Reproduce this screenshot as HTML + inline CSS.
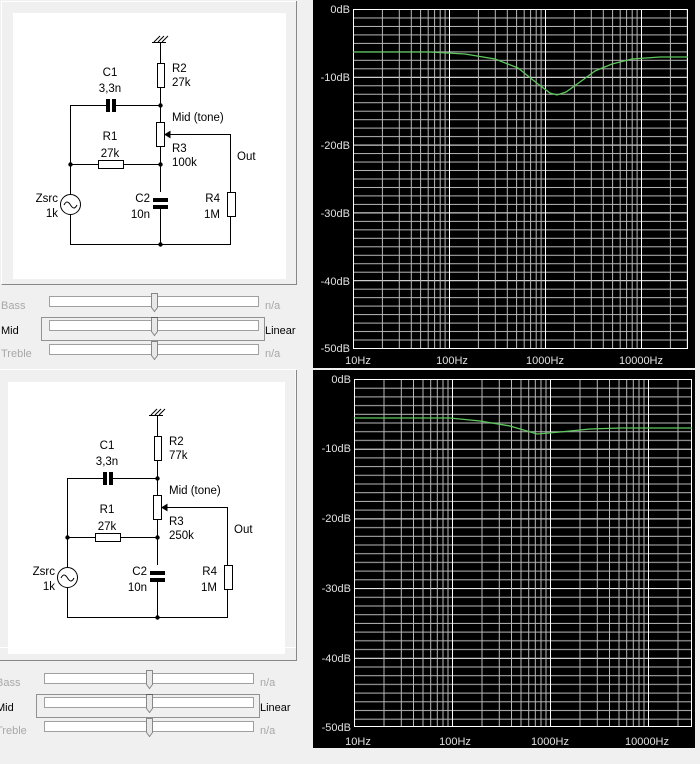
<!DOCTYPE html>
<html><head><meta charset="utf-8"><style>
html,body{margin:0;padding:0;background:#f0f0f0;}
svg{display:block;font-family:"Liberation Sans",sans-serif;}
</style></head><body>
<svg width="700" height="764" viewBox="0 0 700 764" xmlns="http://www.w3.org/2000/svg">
<defs>
<pattern id="v1" patternUnits="userSpaceOnUse" x="353" y="0" width="96" height="10">
<g stroke="#b8b8b8" stroke-width="1">
<line x1="0.5" y1="0" x2="0.5" y2="10" stroke="#fff"/>
<line x1="29.4" y1="0" x2="29.4" y2="10"/><line x1="46.3" y1="0" x2="46.3" y2="10"/>
<line x1="58.3" y1="0" x2="58.3" y2="10"/><line x1="67.6" y1="0" x2="67.6" y2="10"/>
<line x1="75.2" y1="0" x2="75.2" y2="10"/><line x1="81.6" y1="0" x2="81.6" y2="10"/>
<line x1="87.2" y1="0" x2="87.2" y2="10"/><line x1="92.1" y1="0" x2="92.1" y2="10"/>
</g></pattern>
<pattern id="h1" patternUnits="userSpaceOnUse" x="0" y="9" width="10" height="67.8">
<g stroke="#b8b8b8"><line x1="0" y1="0.5" x2="10" y2="0.5" stroke="#fff"/>
<line x1="0" y1="8.97" x2="10" y2="8.97"/><line x1="0" y1="17.45" x2="10" y2="17.45"/>
<line x1="0" y1="25.9" x2="10" y2="25.9"/><line x1="0" y1="34.4" x2="10" y2="34.4"/>
<line x1="0" y1="42.9" x2="10" y2="42.9"/><line x1="0" y1="51.3" x2="10" y2="51.3"/>
<line x1="0" y1="59.8" x2="10" y2="59.8"/></g></pattern>
<pattern id="v2" patternUnits="userSpaceOnUse" x="354" y="0" width="98" height="10">
<g stroke="#b8b8b8" stroke-width="1">
<line x1="0.5" y1="0" x2="0.5" y2="10" stroke="#fff"/>
<line x1="30" y1="0" x2="30" y2="10"/><line x1="47.3" y1="0" x2="47.3" y2="10"/>
<line x1="59.5" y1="0" x2="59.5" y2="10"/><line x1="69" y1="0" x2="69" y2="10"/>
<line x1="76.7" y1="0" x2="76.7" y2="10"/><line x1="83.3" y1="0" x2="83.3" y2="10"/>
<line x1="89" y1="0" x2="89" y2="10"/><line x1="94" y1="0" x2="94" y2="10"/>
</g></pattern>
<pattern id="h2" patternUnits="userSpaceOnUse" x="0" y="379" width="10" height="69.7">
<g stroke="#b8b8b8"><line x1="0" y1="0.5" x2="10" y2="0.5" stroke="#fff"/>
<line x1="0" y1="9.2" x2="10" y2="9.2"/><line x1="0" y1="17.9" x2="10" y2="17.9"/>
<line x1="0" y1="26.6" x2="10" y2="26.6"/><line x1="0" y1="35.3" x2="10" y2="35.3"/>
<line x1="0" y1="44" x2="10" y2="44"/><line x1="0" y1="52.7" x2="10" y2="52.7"/>
<line x1="0" y1="61.4" x2="10" y2="61.4"/></g></pattern>

<g id="circ" fill="none" stroke="#000" stroke-width="1">
<path d="M160.5 42V63M160.5 87V122M160.5 146V192M160.5 208V244M70.5 105V194M70.5 214V244.5H230.5V216M230.5 192V134.5H166M70 105.5H107M114 105.5H160M70 164.5H98M123 164.5H160"/>
<path d="M154 42L160 36M158 42L164 36M162 42L168 36M152 42.5H166"/>
<rect x="157.5" y="63.5" width="7" height="24" fill="#fff"/>
<rect x="156.5" y="122.5" width="8" height="24" fill="#fff"/>
<rect x="98.5" y="160.5" width="25" height="8" fill="#fff"/>
<rect x="227.5" y="192.5" width="8" height="24" fill="#fff"/>
<rect x="106" y="99" width="4" height="13" fill="#000" stroke="none"/>
<rect x="112" y="99" width="4" height="13" fill="#000" stroke="none"/>
<rect x="153" y="198" width="15" height="4" fill="#000" stroke="none"/>
<rect x="153" y="205" width="15" height="4" fill="#000" stroke="none"/>
<circle cx="70.5" cy="204.5" r="10" fill="#fff"/>
<path d="M64 205c2-4 4-4 6.5 0s4.5 4 6.5 0"/>
<path d="M165 134.5L170 131.5V137.5Z" fill="#000"/>
<g fill="#000" stroke="none"><circle cx="160.5" cy="105.5" r="2.2"/><circle cx="160.5" cy="164.5" r="2.2"/><circle cx="70.5" cy="164.5" r="2.2"/><circle cx="160.5" cy="244.5" r="2.2"/></g>
<g fill="#000" stroke="none" font-size="11.5">
<text x="110" y="76" text-anchor="middle">C1</text><text x="110" y="92" text-anchor="middle">3,3n</text>
<text x="172" y="72">R2</text>
<text x="172" y="121">Mid (tone)</text>
<text x="110" y="140" text-anchor="middle">R1</text><text x="110" y="157" text-anchor="middle">27k</text>
<text x="172" y="152">R3</text>
<text x="237" y="160">Out</text>
<text x="58" y="202" text-anchor="end">Zsrc</text><text x="58" y="217" text-anchor="end">1k</text>
<text x="150" y="202" text-anchor="end">C2</text><text x="150" y="218" text-anchor="end">10n</text>
<text x="220" y="202" text-anchor="end">R4</text><text x="220" y="218" text-anchor="end">1M</text>
</g></g>

<g id="ctrl" font-size="11">
<g fill="#fff" stroke="#a0a0a0">
<rect x="49.5" y="296.5" width="103" height="10"/><rect x="157.5" y="296.5" width="101" height="10"/>
<rect x="49.5" y="320.5" width="103" height="10"/><rect x="157.5" y="320.5" width="101" height="10"/>
<rect x="49.5" y="344.5" width="103" height="10"/><rect x="157.5" y="344.5" width="101" height="10"/>
</g>
<g fill="#e8e8e8" stroke="#888"><path d="M151.5 293.5h6v14l-3 4l-3-4z"/><path d="M151.5 317.5h6v14l-3 4l-3-4z"/><path d="M151.5 341.5h6v14l-3 4l-3-4z"/></g>
<rect x="41.5" y="317.5" width="223" height="23" fill="none" stroke="#333" stroke-dasharray="1 1"/>
<text x="1" y="309" fill="#a8a8a8">Bass</text>
<text x="1" y="334" fill="#000">Mid</text>
<text x="1" y="357" fill="#a8a8a8">Treble</text>
<text x="265" y="309" fill="#a8a8a8">n/a</text>
<text x="265" y="334" fill="#000">Linear</text>
<text x="265" y="357" fill="#a8a8a8">n/a</text>
</g>
</defs>

<!-- top left panel -->
<rect x="1.5" y="1.5" width="295" height="283" fill="#f0f0f0" stroke="#fff"/>
<path d="M1.5 284.5H296.5V1" stroke="#888" fill="none"/>
<rect x="13" y="13" width="273" height="266" fill="#fff"/>
<use href="#circ"/>
<text x="172" y="86" font-size="11.5">27k</text>
<text x="172" y="166" font-size="11.5">100k</text>
<use href="#ctrl"/>

<!-- bottom left panel -->
<rect x="-2" y="369.5" width="298" height="278" fill="#f0f0f0" stroke="#fff"/>
<path d="M-2 660.5H296.5V370" stroke="#888" fill="none"/>
<rect x="8" y="382" width="277" height="272" fill="#fff"/>
<g transform="translate(-3,373)"><use href="#circ"/>
<text x="172" y="86" font-size="11.5">77k</text>
<text x="172" y="166" font-size="11.5">250k</text></g>
<g transform="translate(-5,377)"><use href="#ctrl"/></g>

<!-- top graph -->
<rect x="313" y="0" width="382" height="368" fill="#000"/>
<rect x="353" y="9" width="335" height="340" fill="url(#h1)"/>
<rect x="353" y="9" width="335" height="340" fill="url(#v1)"/>
<rect x="353.5" y="9.5" width="334" height="339" fill="none" stroke="#fff"/>
<polyline fill="none" stroke="#5ec85e" stroke-width="1.3" points="353,52 430,52 465,54 495,59 518,68 538,84 550,93 557,95 566,92 580,82 595,71 612,64 632,59 660,57 688,57"/>
<g fill="#e0e0e0" font-size="11" text-anchor="end">
<text x="350" y="13">0dB</text><text x="350" y="81">-10dB</text><text x="350" y="149">-20dB</text>
<text x="350" y="217">-30dB</text><text x="350" y="285">-40dB</text><text x="350" y="352">-50dB</text></g>
<g fill="#e0e0e0" font-size="11" text-anchor="middle">
<text x="358" y="364">10Hz</text><text x="452" y="364">100Hz</text><text x="545" y="364">1000Hz</text><text x="641" y="364">10000Hz</text></g>

<!-- bottom graph -->
<rect x="313" y="370" width="382" height="378" fill="#000"/>
<rect x="354" y="379" width="338" height="348" fill="url(#h2)"/>
<rect x="354" y="379" width="338" height="348" fill="url(#v2)"/>
<rect x="354.5" y="379.5" width="337" height="347" fill="none" stroke="#fff"/>
<polyline fill="none" stroke="#5ec85e" stroke-width="1.3" points="354,418 450,418 480,421 510,426 537,434 560,432 590,429 620,428 692,428"/>
<g fill="#e0e0e0" font-size="11" text-anchor="end">
<text x="351" y="383">0dB</text><text x="351" y="452">-10dB</text><text x="351" y="522">-20dB</text>
<text x="351" y="592">-30dB</text><text x="351" y="662">-40dB</text><text x="351" y="731">-50dB</text></g>
<g fill="#e0e0e0" font-size="11" text-anchor="middle">
<text x="358" y="745">10Hz</text><text x="455" y="745">100Hz</text><text x="550" y="745">1000Hz</text><text x="647" y="745">10000Hz</text></g>
</svg>
</body></html>
